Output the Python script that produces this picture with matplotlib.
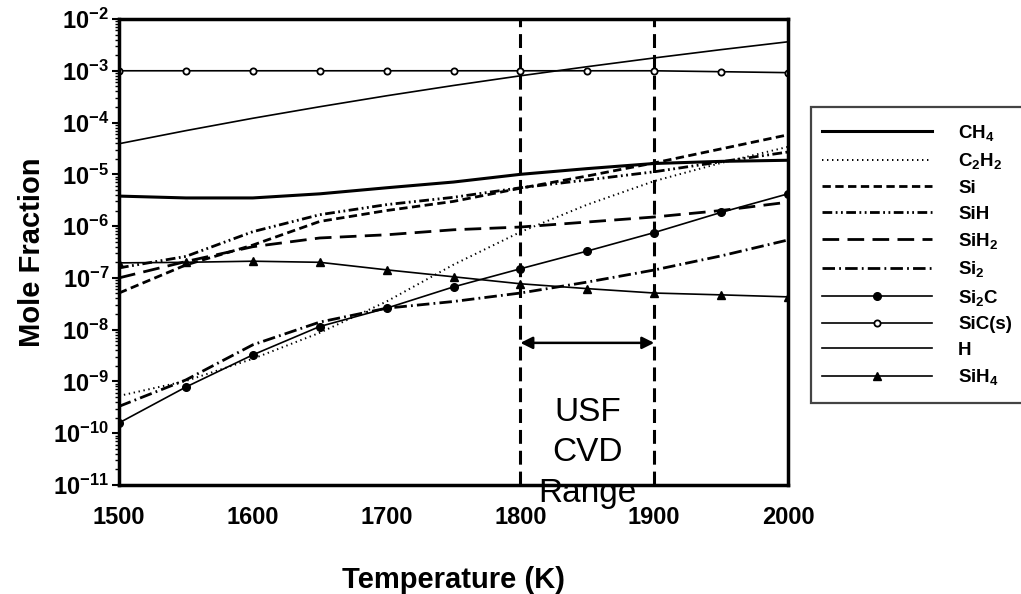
import matplotlib
matplotlib.use("Agg")
import matplotlib.pyplot as plt
from matplotlib.ticker import LogLocator, FixedLocator, NullFormatter
from matplotlib.patches import Rectangle

plt.rcParams['font.family'] = ['Liberation Sans', 'DejaVu Sans']
plt.rcParams['mathtext.fontset'] = 'custom'
plt.rcParams['mathtext.rm'] = 'Liberation Sans:bold'
plt.rcParams['mathtext.bf'] = 'Liberation Sans:bold'
plt.rcParams['mathtext.default'] = 'rm'
plt.rcParams['lines.scale_dashes'] = False

# ---- data ----
temperature = [1500, 1550, 1600, 1650, 1700, 1750, 1800, 1850, 1900, 1950, 2000]
ch4 = [3.8e-6, 3.5e-6, 3.5e-6, 4.2e-6, 5.5e-6, 7.1e-6, 1.0e-5, 1.29e-5, 1.62e-5, 1.78e-5, 1.87e-5]
c2h2 = [5.25e-10, 1.02e-9, 2.74e-9, 8.7e-9, 3.5e-8, 1.8e-7, 7.7e-7, 2.6e-6, 7.4e-6, 1.66e-5, 3.4e-5]
si = [5.1e-8, 1.78e-7, 4.3e-7, 1.23e-6, 2.0e-6, 3.0e-6, 5.4e-6, 9.3e-6, 1.66e-5, 3.1e-5, 5.8e-5]
sih = [1.56e-7, 2.6e-7, 7.8e-7, 1.66e-6, 2.6e-6, 3.6e-6, 5.5e-6, 7.8e-6, 1.12e-5, 1.75e-5, 2.7e-5]
sih2 = [1.0e-7, 2.07e-7, 4.0e-7, 5.9e-7, 6.8e-7, 8.5e-7, 9.6e-7, 1.2e-6, 1.5e-6, 2.0e-6, 2.9e-6]
si2 = [3.3e-10, 1.07e-9, 5.1e-9, 1.4e-8, 2.6e-8, 3.5e-8, 5.1e-8, 8.3e-8, 1.42e-7, 2.66e-7, 5.4e-7]
si2c = [1.58e-10, 7.8e-10, 3.26e-9, 1.15e-8, 2.6e-8, 6.7e-8, 1.5e-7, 3.3e-7, 7.5e-7, 1.84e-6, 4.2e-6]
sic_s = [1.0e-3, 1.0e-3, 1.0e-3, 1.0e-3, 1.0e-3, 1.0e-3, 1.0e-3, 1.0e-3, 1.0e-3, 9.6e-4, 9.2e-4]
h = [3.9e-5, 6.98e-5, 1.21e-4, 2.02e-4, 3.29e-4, 5.2e-4, 8.0e-4, 1.2e-3, 1.77e-3, 2.56e-3, 3.63e-3]
sih4 = [1.95e-7, 2.0e-7, 2.1e-7, 2.0e-7, 1.43e-7, 1.05e-7, 7.7e-8, 6.2e-8, 5.1e-8, 4.7e-8, 4.3e-8]

series_labels = ['CH$_4$', 'C$_2$H$_2$', 'Si', 'SiH', 'SiH$_2$', 'Si$_2$', 'Si$_2$C', 'SiC(s)', 'H', 'SiH$_4$']
x_ticks = [1500, 1600, 1700, 1800, 1900, 2000]
y_exponents = [-2, -3, -4, -5, -6, -7, -8, -9, -10, -11]
cvd_range = [1800, 1900]

fig = plt.figure(figsize=(10.21, 5.94), dpi=100)
ax = fig.add_axes([119/1021, 1 - 485/594, (788-119)/1021, (485-19)/594])

k = dict(color='black')
ax.plot(temperature, ch4, lw=2.2, ls='-', label=series_labels[0], **k)
ax.plot(temperature, c2h2, lw=1.4, ls=(0, (1.0, 2.6)), label=series_labels[1], **k)
ax.plot(temperature, si, lw=2.0, ls=(0, (6, 3.2)), label=series_labels[2], **k)
ax.plot(temperature, sih, lw=2.0, ls=(0, (7, 2.5, 1.3, 2.5, 1.3, 2.5)), label=series_labels[3], **k)
ax.plot(temperature, sih2, lw=2.0, ls=(0, (12, 6)), label=series_labels[4], **k)
ax.plot(temperature, si2, lw=2.0, ls=(0, (9, 3, 1.3, 3)), label=series_labels[5], **k)
ax.plot(temperature, si2c, lw=1.2, ls='-', marker='o', ms=5.5, mfc='black', mec='black', label=series_labels[6], **k)
ax.plot(temperature, sic_s, lw=1.2, ls='-', marker='o', ms=4.5, mfc='white', mec='black', mew=1.3, label=series_labels[7], **k)
ax.plot(temperature, h, lw=1.2, ls='-', label=series_labels[8], **k)
ax.plot(temperature, sih4, lw=1.2, ls='-', marker='^', ms=5.5, mfc='black', mec='black', label=series_labels[9], **k)

for xv in cvd_range:
    ax.axvline(xv, color='black', lw=2.2, ls=(0, (10, 5)))

ax.annotate('', xy=(cvd_range[0], 5.56e-9), xytext=(cvd_range[1], 5.56e-9),
            arrowprops=dict(arrowstyle='<|-|>', color='black', lw=1.8,
                            mutation_scale=18, shrinkA=0, shrinkB=0))
ax.text(sum(cvd_range)/2, 0.0687, 'USF\nCVD\nRange', transform=ax.get_xaxis_transform(),
        ha='center', va='center', fontsize=24, linespacing=1.38,
        fontfamily='Liberation Sans', fontweight='normal')

ax.set_yscale('log')
ax.set_xlim(1500, 2000)
ax.set_ylim(1e-11, 1e-2)
ax.xaxis.set_major_locator(FixedLocator(x_ticks))
ax.set_xticklabels([str(t) for t in x_ticks], fontsize=17, fontweight='bold')
ax.yaxis.set_major_locator(FixedLocator([10.0**e for e in y_exponents]))
ax.set_yticklabels(['$10^{%d}$' % e for e in y_exponents], fontsize=17)
ax.yaxis.set_minor_locator(LogLocator(base=10, subs=range(2, 10), numticks=100))
ax.yaxis.set_minor_formatter(NullFormatter())
ax.tick_params(axis='x', length=0, pad=15)
ax.tick_params(axis='y', which='major', direction='out', length=5, width=1.5, pad=2)
ax.tick_params(axis='y', which='minor', direction='out', length=3, width=1.0)
for s in ax.spines.values():
    s.set_linewidth(2.5)

ax.set_xlabel('Temperature (K)', fontsize=21, fontweight='bold', labelpad=27)
ax.set_ylabel('Mole Fraction', fontsize=21, fontweight='bold', labelpad=5)

# legend box
fig.patches.append(Rectangle((811/1021, 1 - 403.3/594), (1030-811)/1021, (403.3-106.7)/594,
                             transform=fig.transFigure, facecolor='white', edgecolor='#444444',
                             lw=1.6, zorder=0))
leg = fig.legend(loc='upper left', bbox_to_anchor=(822/1021, 1 - 123.0/594),
                 borderaxespad=0, frameon=False,
                 prop={'family': 'Liberation Sans', 'weight': 'bold', 'size': 13.5},
                 handlelength=5.87, handletextpad=1.39, labelspacing=0.45, borderpad=0,
                 numpoints=1)

fig.savefig('out.png', dpi=100, facecolor='white')
